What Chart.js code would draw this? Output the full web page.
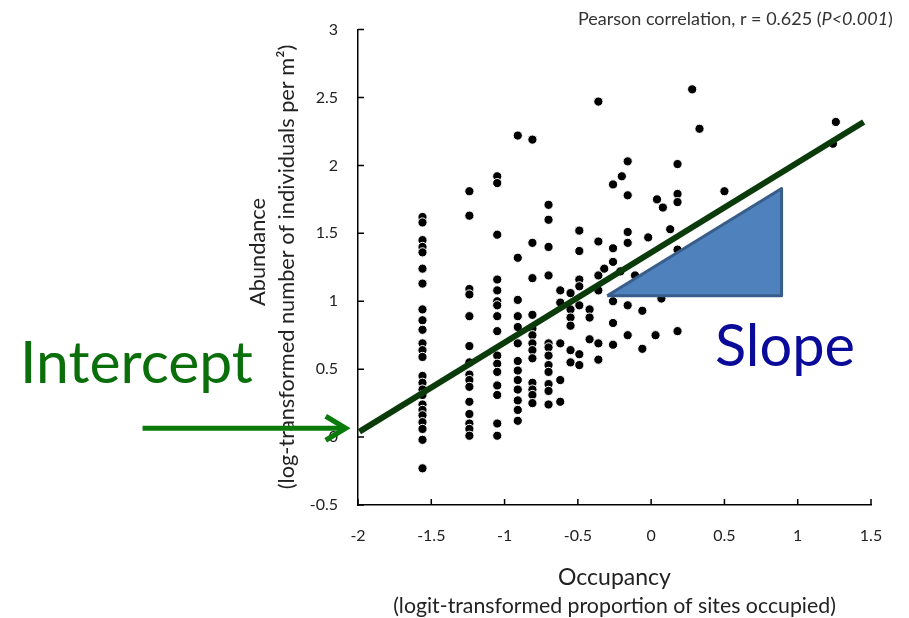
<!DOCTYPE html>
<html>
<head>
<meta charset="utf-8">
<script src="https://cdn.jsdelivr.net/npm/chart.js@4.4.1/dist/chart.umd.min.js"></script>
<style>
  html, body { margin: 0; padding: 0; background: #fff; }
  #wrap { width: 909px; height: 618px; position: relative; }
</style>
</head>
<body>
<div id="wrap"><canvas id="occChart"></canvas></div>
<script>
// Species that share an occupancy value line up in columns
const colOccupancy = [-1.56, -1.24, -1.05, -0.91, -0.81, -0.70, -0.62, -0.55, -0.49, -0.42, -0.36];
const colAbundance = [
  [1.62, 1.58, 1.45, 1.40, 1.36, 1.24, 1.13, 0.94, 0.86, 0.79, 0.69, 0.64, 0.59, 0.45, 0.40, 0.35, 0.31, 0.24, 0.20, 0.16, 0.11, 0.06, -0.02, -0.23],
  [1.81, 1.63, 1.09, 1.05, 0.89, 0.67, 0.55, 0.46, 0.42, 0.37, 0.26, 0.17, 0.10, 0.06, 0.01],
  [1.92, 1.87, 1.49, 1.16, 1.08, 1.00, 0.97, 0.89, 0.78, 0.60, 0.54, 0.48, 0.38, 0.31, 0.10, 0.01],
  [2.22, 1.32, 1.01, 0.89, 0.81, 0.69, 0.56, 0.49, 0.42, 0.35, 0.27, 0.20, 0.12],
  [2.19, 1.43, 1.17, 0.90, 0.80, 0.75, 0.69, 0.64, 0.58, 0.40, 0.35, 0.31, 0.25],
  [1.71, 1.60, 1.40, 1.19, 0.69, 0.66, 0.60, 0.53, 0.48, 0.39, 0.34, 0.24],
  [1.08, 0.99, 0.69, 0.42, 0.26],
  [1.06, 0.94, 0.88, 0.82, 0.64, 0.55],
  [1.52, 1.37, 1.16, 1.11, 0.97, 0.61, 0.53],
  [0.94, 0.88, 0.72],
  [2.47, 1.44, 1.19, 1.08, 0.69, 0.57]
];

// Remaining, more widely occupied species
const looseOccupancy = [0.28, 0.33, 1.26, 1.24, 0.50, -0.16, -0.20, -0.26, -0.16, 0.18, 0.18, 0.18, 0.04, 0.08,
  0.13, -0.02, -0.16, -0.16, 0.18, -0.26, -0.26, -0.32, -0.21, -0.11, 0.07, -0.26, -0.16, -0.06, -0.26, -0.16,
  0.03, 0.18, -0.06, -0.26];
const looseAbundance = [2.56, 2.27, 2.32, 2.16, 1.81, 2.03, 1.92, 1.86, 1.78, 2.01, 1.79, 1.73, 1.75, 1.69,
  1.53, 1.47, 1.51, 1.43, 1.38, 1.39, 1.29, 1.24, 1.22, 1.19, 1.02, 1.00, 0.97, 0.93, 0.84, 0.75,
  0.75, 0.78, 0.65, 0.68];

// Fitted regression line, end points
const regOccupancy = [-1.99, 1.45];
const regAbundance = [0.04, 2.32];

// Rise-over-run triangle under the line
const triOccupancy = [-0.30, 0.89, 0.89, -0.30];
const triAbundance = [1.04, 1.83, 1.04, 1.04];

const xTicks = [-2, -1.5, -1, -0.5, 0, 0.5, 1, 1.5];
const yTicks = [-0.5, 0, 0.5, 1, 1.5, 2, 2.5, 3];

const points = [];
colOccupancy.forEach((x, i) => colAbundance[i].forEach(y => points.push({ x, y })));
looseOccupancy.forEach((x, i) => points.push({ x, y: looseAbundance[i] }));

const zip = (xs, ys) => xs.map((x, i) => ({ x, y: ys[i] }));

const FONT = 'Lato, "Open Sans", sans-serif';

// set ctx.font so that text comes out at the given width
function fitFont(ctx, text, width, style) {
  style = style || '';
  ctx.font = style + '20px ' + FONT;
  const size = 20 * width / ctx.measureText(text).width;
  ctx.font = style + size.toFixed(2) + 'px ' + FONT;
  return size;
}

// tick marks point into the plot, plus titles and the teaching labels
const overlay = {
  id: 'overlay',
  afterDraw(chart) {
    const { ctx, scales: { x, y }, chartArea: a } = chart;
    ctx.save();
    ctx.strokeStyle = '#000';
    ctx.lineWidth = 1.5;
    ctx.beginPath();
    xTicks.forEach(v => {
      const px = x.getPixelForValue(v);
      ctx.moveTo(px, a.bottom);
      ctx.lineTo(px, a.bottom - 6);
    });
    yTicks.forEach(v => {
      const py = y.getPixelForValue(v);
      ctx.moveTo(a.left, py);
      ctx.lineTo(a.left + 6, py);
    });
    ctx.stroke();

    // axis titles
    ctx.fillStyle = '#222';
    ctx.textAlign = 'center';
    ctx.textBaseline = 'middle';
    const cx = (a.left + a.right) / 2;
    fitFont(ctx, 'Occupancy', 113);
    ctx.fillText('Occupancy', cx, 578);
    const xSub = '(logit-transformed proportion of sites occupied)';
    fitFont(ctx, xSub, 443);
    ctx.fillText(xSub, cx, 606);

    // both y title lines share one size
    const ySub = '(log-transformed number of individuals per m\u00B2)';
    const ySize = fitFont(ctx, ySub, 445);
    ctx.save();
    ctx.translate(287, 267);
    ctx.rotate(-Math.PI / 2);
    ctx.fillText(ySub, 0, 0);
    ctx.restore();
    ctx.save();
    ctx.translate(258, 252);
    ctx.rotate(-Math.PI / 2);
    ctx.font = ySize.toFixed(2) + 'px ' + FONT;
    ctx.fillText('Abundance', 0, 0);
    ctx.restore();

    // correlation note, top right
    ctx.textBaseline = 'alphabetic';
    ctx.textAlign = 'left';
    const parts = [
      ['Pearson correlation, r = 0.625 (', ''],
      ['P<0.001', 'italic '],
      [')', '']
    ];
    let w20 = 0;
    parts.forEach(p => { ctx.font = p[1] + '20px ' + FONT; w20 += ctx.measureText(p[0]).width; });
    const noteSize = 20 * 315 / w20;
    let tx = 893 - 315;
    ctx.fillStyle = '#333';
    parts.forEach(p => {
      ctx.font = p[1] + noteSize.toFixed(2) + 'px ' + FONT;
      ctx.fillText(p[0], tx, 25);
      tx += ctx.measureText(p[0]).width;
    });

    // "Intercept" label and arrow
    ctx.fillStyle = '#0a6e0a';
    fitFont(ctx, 'Intercept', 233);
    ctx.fillText('Intercept', 20, 383);

    const ay = y.getPixelForValue(0.065);
    const ax0 = x.getPixelForValue(-3.47);
    const ax1 = x.getPixelForValue(-2.07);
    ctx.strokeStyle = '#0a7a0a';
    ctx.lineWidth = 5;
    ctx.lineCap = 'butt';
    ctx.beginPath();
    ctx.moveTo(ax0, ay);
    ctx.lineTo(ax1 - 3, ay);
    ctx.stroke();
    ctx.lineJoin = 'miter';
    ctx.beginPath();
    ctx.moveTo(ax1 - 22, ay - 12);
    ctx.lineTo(ax1 - 2, ay);
    ctx.lineTo(ax1 - 22, ay + 12);
    ctx.stroke();

    // "Slope" label
    ctx.fillStyle = '#0b0b99';
    fitFont(ctx, 'Slope', 140);
    ctx.fillText('Slope', 715, 366);
    ctx.restore();
  }
};

new Chart(document.getElementById('occChart'), {
  type: 'scatter',
  data: {
    datasets: [
      {
        type: 'line',
        label: 'Slope',
        data: zip(triOccupancy, triAbundance),
        backgroundColor: '#4f81bd',
        borderColor: '#385d8a',
        borderWidth: 3,
        borderJoinStyle: 'round',
        fill: 'shape',
        pointRadius: 0,
        tension: 0,
        order: 0
      },
      {
        type: 'line',
        label: 'Fit',
        data: zip(regOccupancy, regAbundance),
        borderColor: '#0b3a0b',
        borderWidth: 6,
        fill: false,
        pointRadius: 0,
        order: 1
      },
      {
        label: 'Species',
        data: points,
        backgroundColor: '#000',
        borderColor: '#fff',
        borderWidth: 1,
        pointRadius: 4.6,
        order: 2
      }
    ]
  },
  options: {
    responsive: true,
    maintainAspectRatio: false,
    animation: false,
    layout: { padding: { top: 25, right: 38, left: 0, bottom: 0 } },
    plugins: {
      legend: { display: false },
      tooltip: { enabled: false }
    },
    scales: {
      x: {
        type: 'linear',
        min: -2,
        max: 1.5,
        afterBuildTicks: s => { s.ticks = xTicks.map(v => ({ value: v })); },
        afterFit: s => { s.height = 113; },
        ticks: {
          padding: 21,
          color: '#222',
          font: { family: FONT, size: 16 },
          callback: v => String(v)
        },
        grid: { display: false, drawTicks: false },
        border: { display: true, color: '#000', width: 1.5 }
      },
      y: {
        type: 'linear',
        min: -0.5,
        max: 3,
        afterBuildTicks: s => { s.ticks = yTicks.map(v => ({ value: v })); },
        afterFit: s => { s.width = 358; },
        ticks: {
          padding: 20,
          color: '#222',
          font: { family: FONT, size: 16 },
          callback: v => String(v)
        },
        grid: { display: false, drawTicks: false },
        border: { display: true, color: '#000', width: 1.5 }
      }
    }
  },
  plugins: [overlay]
});
</script>
</body>
</html>
